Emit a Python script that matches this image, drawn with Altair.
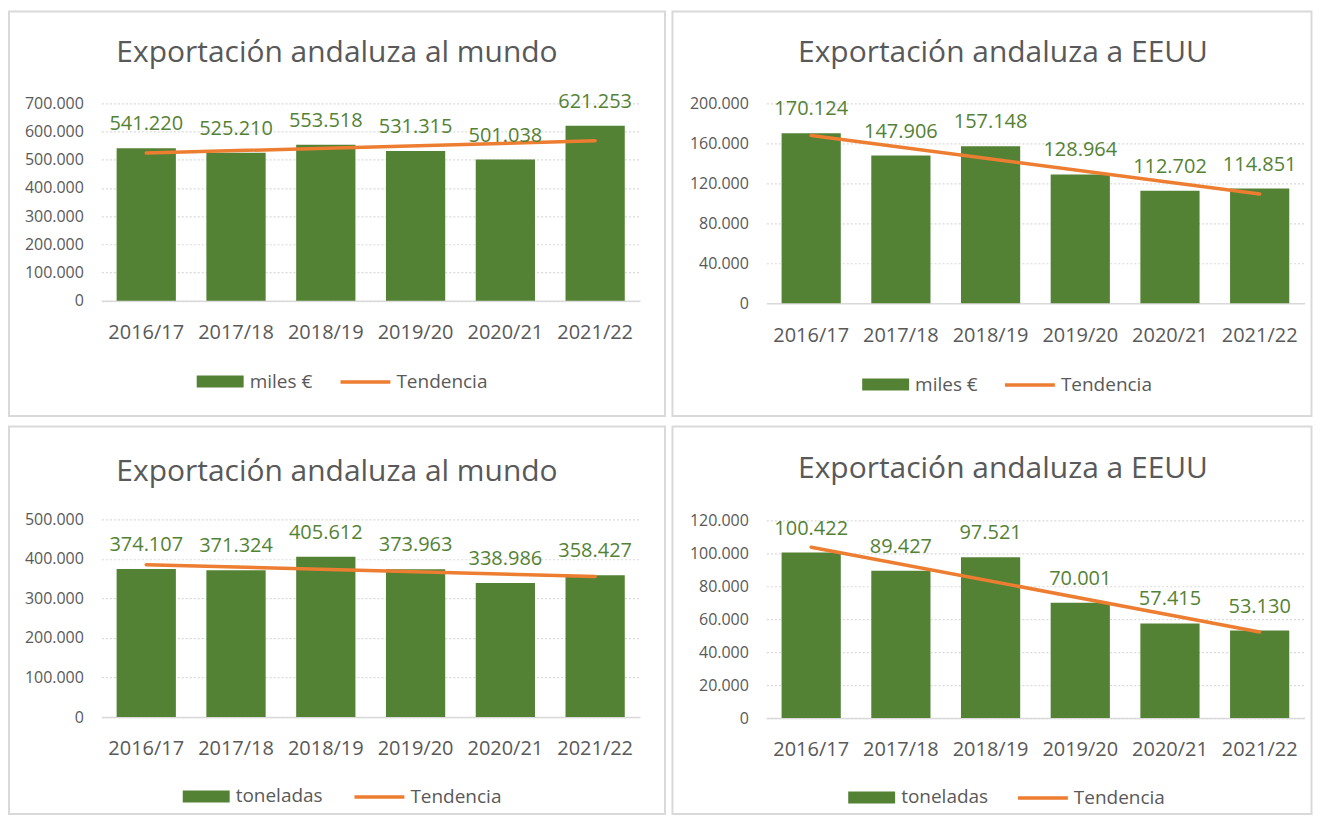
import json
import altair as alt
import pandas as pd

# ---------------- data ----------------
years = ["2016/17", "2017/18", "2018/19", "2019/20", "2020/21", "2021/22"]

mundo_eur = [541220, 525210, 553518, 531315, 501038, 621253]
eeuu_eur = [170124, 147906, 157148, 128964, 112702, 114851]
mundo_ton = [374107, 371324, 405612, 373963, 338986, 358427]
eeuu_ton = [100422, 89427, 97521, 70001, 57415, 53130]

ticks_mundo_eur = [0, 100000, 200000, 300000, 400000, 500000, 600000, 700000]
ticks_eeuu_eur = [0, 40000, 80000, 120000, 160000, 200000]
ticks_mundo_ton = [0, 100000, 200000, 300000, 400000, 500000]
ticks_eeuu_ton = [0, 20000, 40000, 60000, 80000, 100000, 120000]

title_mundo = "Exportación andaluza al mundo"
title_eeuu = "Exportación andaluza a EEUU"
serie_eur = "miles €"
serie_ton = "toneladas"
trend_name = "Tendencia"

# ---------------- style ----------------
FONT = "Open Sans"
GREEN = "#548235"
ORANGE = "#ED7D31"
GREY_TXT = "#595959"
GREY_LINE = "#D9D9D9"

RECT_PATH = "M-1,-0.255H1V0.255H-1Z"
FMT = "replace(format(datum.value, ','), ',', '.')"


def panel(values, ticks, title, serie, g):
    df = pd.DataFrame({"year": years, "idx": list(range(len(years))),
                       "value": values, "serie": serie})
    base = alt.Chart(df)

    x = alt.X(
        "year:N", sort=years, title=None,
        scale=alt.Scale(domain=years, range=[g["x0"], g["x1"]],
                        paddingInner=0.34, paddingOuter=0.17),
        axis=alt.Axis(orient="bottom", offset=-(g["H"] - g["y0"]),
                      domain=True, domainColor=GREY_LINE, domainWidth=1.5,
                      ticks=False, grid=False, labelAngle=0,
                      labelPadding=22, labelFontSize=20, labelColor=GREY_TXT,
                      labelFont=FONT),
    )
    y = alt.Y(
        "value:Q", title=None,
        scale=alt.Scale(domain=[0, ticks[-1]], range=[g["y0"], g["y1"]],
                        nice=False, zero=True),
        axis=alt.Axis(orient="left", offset=-g["x0"], domain=False,
                      ticks=False, values=ticks, labelExpr=FMT,
                      labelPadding=18, labelFontSize=16, labelColor=GREY_TXT,
                      labelFont=FONT, grid=True, gridColor=GREY_LINE,
                      gridDash=[2, 2], gridWidth=1.2),
    )

    bars = base.mark_bar(color=GREEN).encode(
        x=x, y=y,
        color=alt.Color(
            "serie:N",
            scale=alt.Scale(domain=[serie], range=[GREEN]),
            legend=alt.Legend(orient="none", legendX=g["lrx"],
                              legendY=g["lcy"] - 24, direction="horizontal",
                              title=None, symbolType=RECT_PATH,
                              symbolSize=47 * 47, symbolStrokeWidth=0,
                              labelFontSize=19, labelColor=GREY_TXT,
                              labelFont=FONT, labelOffset=6, padding=0),
        ),
    )

    yexpr = json.dumps(years)
    trend = (
        base.transform_regression("idx", "value", method="linear", extent=[0, 5])
        .transform_calculate(year=f"{yexpr}[round(datum.idx)]",
                             tserie=json.dumps(trend_name))
        .mark_line(strokeWidth=3.5, strokeCap="round")
        .encode(
            x=x, y=y,
            stroke=alt.Stroke(
                "tserie:N",
                scale=alt.Scale(domain=[trend_name], range=[ORANGE]),
                legend=alt.Legend(orient="none", legendX=g["llx"],
                                  legendY=g["lcy"] - 27,
                                  direction="horizontal", title=None,
                                  symbolType="stroke", symbolSize=2500,
                                  symbolStrokeWidth=3.5,
                                  labelFontSize=19, labelColor=GREY_TXT,
                                  labelFont=FONT, labelOffset=4, padding=0),
            ),
        )
    )

    labels = (
        base.transform_calculate(label=FMT)
        .mark_text(dy=-24, baseline="middle", align="center", fontSize=20,
                   font=FONT, color=GREEN)
        .encode(x=x, y=y, text="label:N")
    )

    return alt.layer(bars, trend, labels).properties(
        width=g["W"], height=g["H"],
        title=alt.TitleParams(title, anchor="middle", frame="group",
                              orient="top", offset=0, baseline="alphabetic",
                              dy=g["tb"] + 29, dx=g["tdx"], fontSize=30,
                              font=FONT, fontWeight="normal", color=GREY_TXT),
    )


geo_tl = dict(W=657, H=405, x0=92.5, x1=632, y0=289.5, y1=92,
              lrx=188, llx=330, lcy=371, tb=51, tdx=0)
geo_tr = dict(W=640, H=405, x0=94, x1=633, y0=292, y1=92,
              lrx=190, llx=331, lcy=374, tb=51, tdx=11)
geo_bl = dict(W=657, H=388, x0=92.5, x1=632, y0=291, y1=93,
              lrx=174, llx=344, lcy=371, tb=56, tdx=0)
geo_br = dict(W=640, H=388, x0=94, x1=633, y0=292, y1=94,
              lrx=176, llx=344, lcy=372, tb=53, tdx=11)

tl = panel(mundo_eur, ticks_mundo_eur, title_mundo, serie_eur, geo_tl)
tr = panel(eeuu_eur, ticks_eeuu_eur, title_eeuu, serie_eur, geo_tr)
bl = panel(mundo_ton, ticks_mundo_ton, title_mundo, serie_ton, geo_bl)
br = panel(eeuu_ton, ticks_eeuu_ton, title_eeuu, serie_ton, geo_br)

RES = dict(x="independent", y="independent", color="independent",
           stroke="independent")

chart = (
    alt.vconcat(
        alt.hconcat(tl, tr, spacing=5.5).resolve_scale(**RES),
        alt.hconcat(bl, br, spacing=5.5).resolve_scale(**RES),
        spacing=8.5,
    )
    .resolve_scale(**RES)
    .properties(padding={"left": 0, "top": 2, "right": 0, "bottom": 0},
                background="white")
    .configure(font=FONT)
    .configure_view(stroke=GREY_LINE, strokeWidth=2)
)

chart.save("out.html", embed_options={"renderer": "svg", "actions": False})
